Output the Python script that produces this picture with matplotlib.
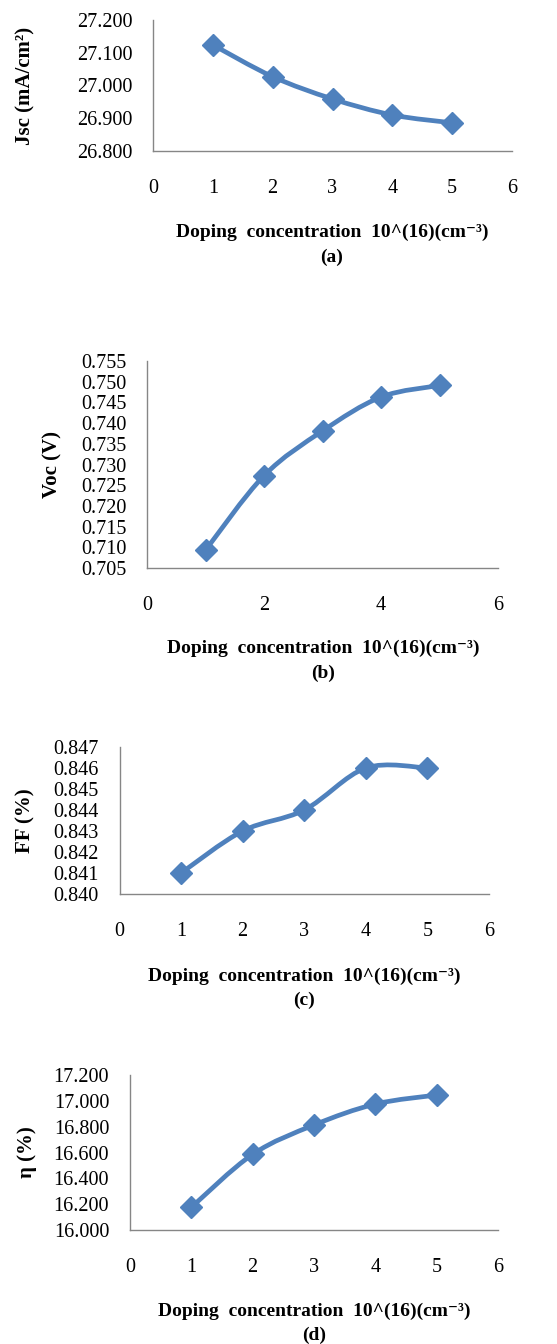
import numpy as np
import matplotlib
matplotlib.use("Agg")
import matplotlib.pyplot as plt
from matplotlib.path import Path
from matplotlib.patches import PathPatch

plt.rcParams['font.family'] = ['Liberation Serif', 'DejaVu Serif']

doping = [1, 2, 3, 4, 5]
jsc = [27.124, 27.027, 26.959, 26.910, 26.886]
voc = [0.7093, 0.7273, 0.7381, 0.7463, 0.7491]
ff = [0.841, 0.843, 0.844, 0.846, 0.846]
eta = [16.176, 16.586, 16.813, 16.975, 17.045]

ylabels = ['Jsc (mA/cm²)', 'Voc (V)', 'FF (%)', 'η (%)']
captions = ['(a)', '(b)', '(c)', '(d)']
xlabel = 'Doping  concentration  10^(16)(cm⁻³)'

W, H = 557, 1344
fig = plt.figure(figsize=(W / 100, H / 100), dpi=100)

# pixel boxes: left, right, top, bottom
boxes = [(153, 512, 20, 151), (147, 498, 361, 568), (119.5, 489, 747, 894), (130, 498, 1075, 1230)]
ylims = [(26.8, 27.2), (0.705, 0.755), (0.840, 0.847), (16.0, 17.2)]
yticks = [np.arange(26.8, 27.2001, 0.1), np.arange(0.705, 0.7551, 0.005),
          np.arange(0.840, 0.84701, 0.001), np.arange(16.0, 17.2001, 0.2)]
yfmt = ['{:.3f}', '{:.3f}', '{:.3f}', '{:.3f}']
xticks = [[0, 1, 2, 3, 4, 5, 6], [0, 2, 4, 6], [0, 1, 2, 3, 4, 5, 6], [0, 1, 2, 3, 4, 5, 6]]
ylab_x = [25, 52, 25, 27]
xlab_y = [232, 648, 976, 1311]
cap_y = [257, 673, 1000, 1335]
xlab_cx = [332, 323, 304, 314]
series = [jsc, voc, ff, eta]

color = '#4F81BD'
spine_c = '#868686'


def smooth_path(xs, ys):
    pts = np.column_stack([xs, ys]).astype(float)
    n = len(pts)
    verts = [pts[0]]
    codes = [Path.MOVETO]
    for i in range(n - 1):
        p0 = pts[i - 1] if i > 0 else pts[i]
        p1 = pts[i]
        p2 = pts[i + 1]
        p3 = pts[i + 2] if i + 2 < n else pts[i + 1]
        c1 = p1 + (p2 - p0) / 6.0
        c2 = p2 - (p3 - p1) / 6.0
        verts += [c1, c2, p2]
        codes += [Path.CURVE4] * 3
    return Path(verts, codes)


for k in range(4):
    l, r, t, b = boxes[k]
    ax = fig.add_axes([l / W, 1 - b / H, (r - l) / W, (b - t) / H])
    ax.set_xlim(0, 6)
    ax.set_ylim(*ylims[k])
    ax.set_yticks(yticks[k])
    ax.set_yticklabels([yfmt[k].format(v) for v in yticks[k]])
    ax.set_xticks(xticks[k])
    ax.tick_params(length=0, labelsize=14.5, colors='black')
    ax.tick_params(axis='y', pad=15)
    ax.tick_params(axis='x', pad=20)
    for s in ['top', 'right']:
        ax.spines[s].set_visible(False)
    for s in ['left', 'bottom']:
        ax.spines[s].set_color(spine_c)
        ax.spines[s].set_linewidth(1.0)
    ax.patch.set_alpha(0)
    ys = series[k]
    patch = PathPatch(smooth_path(doping, ys), facecolor='none', edgecolor=color,
                      lw=3.4, transform=ax.transData, clip_on=False, capstyle='round', joinstyle='round')
    ax.add_patch(patch)
    ax.plot(doping, ys, linestyle='none', marker='D', markersize=11, color=color, clip_on=False, zorder=3)
    cy = 1 - ((t + b) / 2) / H
    fig.text(ylab_x[k] / W, cy, ylabels[k], rotation=90, ha='center', va='center',
             fontsize=15, fontweight='bold')
    fig.text(xlab_cx[k] / W, 1 - xlab_y[k] / H, xlabel, ha='center', va='center',
             fontsize=14, fontweight='bold')
    fig.text(xlab_cx[k] / W, 1 - cap_y[k] / H, captions[k], ha='center', va='center',
             fontsize=14, fontweight='bold')

fig.savefig('out.png', dpi=100)
